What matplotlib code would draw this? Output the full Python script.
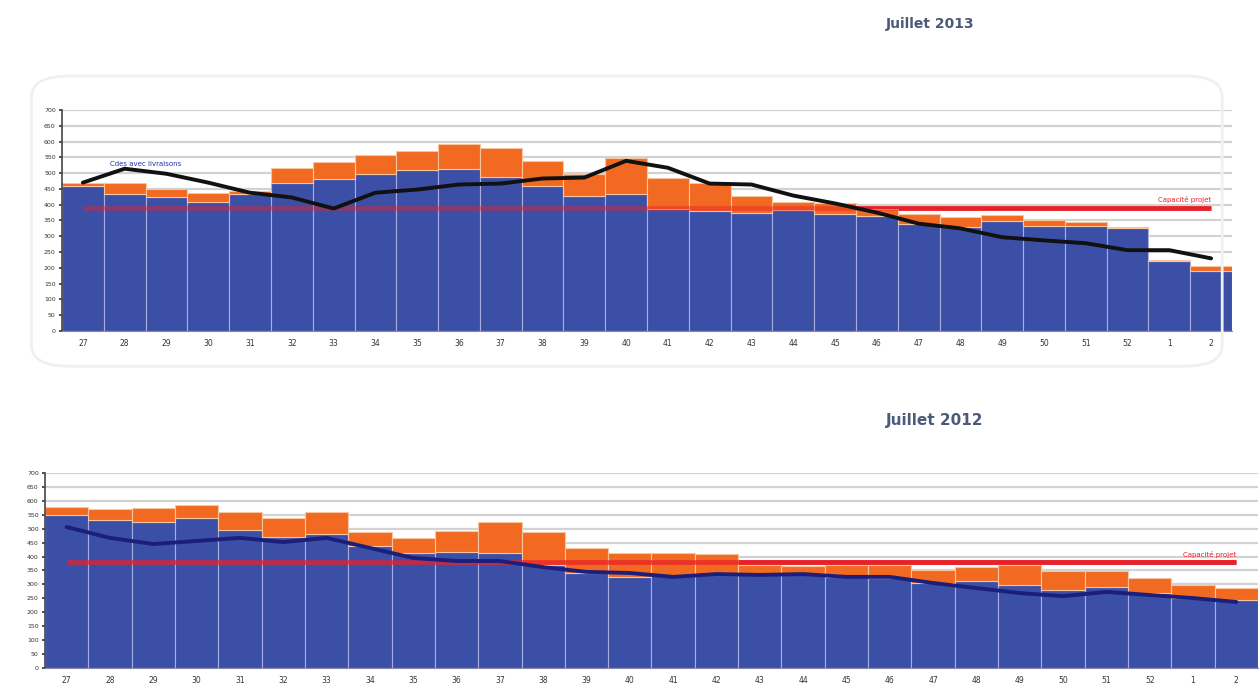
import numpy as np
import matplotlib.pyplot as plt
from matplotlib.patches import FancyBboxPatch

BLUE = '#3b4fa6'
ORANGE = '#f26a21'
RED = '#e8202a'

weeks = ['27', '28', '29', '30', '31', '32', '33', '34', '35', '36', '37', '38', '39', '40',
         '41', '42', '43', '44', '45', '46', '47', '48', '49', '50', '51', '52', '1', '2']

# 2013 : bas des barres (bleu) et sommet total (bleu + orange)
blue_2013 = [460, 435, 423, 410, 435, 470, 483, 498, 511, 514, 489, 460, 429, 435,
             388, 379, 375, 382, 372, 365, 340, 328, 347, 331, 331, 325, 221, 189]
total_2013 = [470, 470, 451, 438, 445, 517, 536, 558, 571, 593, 580, 539, 498, 549,
              486, 470, 429, 410, 404, 385, 372, 360, 369, 353, 344, 328, 224, 205]
trend_2013 = [470, 514, 498, 470, 438, 423, 388, 438, 448, 464, 467, 483, 486, 539,
              517, 467, 464, 429, 404, 375, 340, 325, 297, 287, 278, 256, 256, 230]
capacity_2013 = 390

# 2012
blue_2012 = [549, 531, 524, 538, 495, 470, 481, 438, 413, 416, 413, 370, 341, 327,
             334, 334, 337, 337, 327, 323, 305, 312, 298, 280, 291, 269, 251, 244]
total_2012 = [578, 571, 574, 585, 560, 538, 560, 488, 467, 492, 524, 488, 431, 413,
              413, 409, 370, 365, 370, 370, 352, 362, 370, 348, 348, 323, 298, 287]
trend_2012 = [506, 467, 445, 456, 467, 452, 467, 431, 395, 384, 384, 362, 345, 341,
              327, 337, 334, 337, 327, 327, 305, 287, 269, 258, 273, 262, 251, 237]
capacity_2012 = 380

yticks = np.arange(0, 701, 50)


def draw_panel(ax, blue, total, trend, capa, trend_color, capa_alpha, trend_label):
    x = np.arange(len(weeks))
    blue = np.array(blue)
    total = np.array(total)
    for yv in yticks[1:]:
        ax.axhline(yv, color='#d2d2d2', lw=1.6, zorder=0)
    # ligne de capacité : pleine sous les barres, translucide par-dessus
    ax.plot([0, len(weeks) - 1], [capa, capa], color=RED, lw=3.4,
            zorder=1, solid_capstyle='butt')
    ax.bar(x, blue, width=1.0, color=BLUE, edgecolor='#a9aee0', linewidth=0.8, zorder=2)
    ax.bar(x, total - blue, bottom=blue, width=1.0, color=ORANGE,
           edgecolor='#f7c6a0', linewidth=0.8, zorder=2)
    ax.plot([0, len(weeks) - 1], [capa, capa], color=RED, lw=3.4,
            alpha=capa_alpha, zorder=3, solid_capstyle='butt')
    ax.plot(x, trend, color=trend_color, lw=2.8, zorder=4,
            solid_joinstyle='round', solid_capstyle='round')
    ax.text(len(weeks) - 1, capa + 14, 'Capacité projet', color=RED,
            fontsize=5, ha='right', va='bottom', zorder=5)
    if trend_label:
        ax.text(0.65, trend[1] + 4, trend_label, color='#2233aa', fontsize=5,
                ha='left', va='bottom', zorder=5)

    ax.set_xlim(-0.5, len(weeks) - 0.5)
    ax.set_ylim(0, 700)
    ax.set_xticks(x)
    ax.set_xticklabels(weeks, fontsize=5.5, color='#333333')
    ax.set_yticks(yticks)
    ax.set_yticklabels([str(v) for v in yticks], fontsize=4.5, color='#333333')
    ax.tick_params(axis='y', length=2.5, width=1.2, pad=2, color='#333333')
    ax.tick_params(axis='x', length=0, pad=6)
    for side in ['top', 'right']:
        ax.spines[side].set_visible(False)
    ax.spines['left'].set_color('#444444')
    ax.spines['left'].set_linewidth(1.2)
    ax.spines['bottom'].set_color('#8888aa')
    ax.set_facecolor('white')


fig = plt.figure(figsize=(12.6, 6.91), dpi=100)

# cadre arrondi très léger du panneau du haut
frame = FancyBboxPatch((0.025, 0.47), 0.945, 0.42,
                       boxstyle='round,pad=0,rounding_size=0.03',
                       transform=fig.transFigure, facecolor='none',
                       edgecolor='#f0f0f0', lw=2.0, zorder=0)
fig.patches.append(frame)

ax1 = fig.add_axes([0.0492, 0.521, 0.9286, 0.3198])
ax2 = fig.add_axes([0.0357, 0.0333, 0.9627, 0.2822])

draw_panel(ax1, blue_2013, total_2013, trend_2013, capacity_2013,
           '#111111', 0.45, 'Cdes avec livraisons')
draw_panel(ax2, blue_2012, total_2012, trend_2012, capacity_2012,
           '#1c1f7a', 0.75, None)

fig.text(0.738, 0.965, 'Juillet 2013', fontsize=10, fontweight='bold',
         color='#4a5a78', ha='center', va='center')
fig.text(0.742, 0.391, 'Juillet 2012', fontsize=11, fontweight='bold',
         color='#4a5a78', ha='center', va='center')

fig.savefig('out.png', dpi=100, facecolor='white')
